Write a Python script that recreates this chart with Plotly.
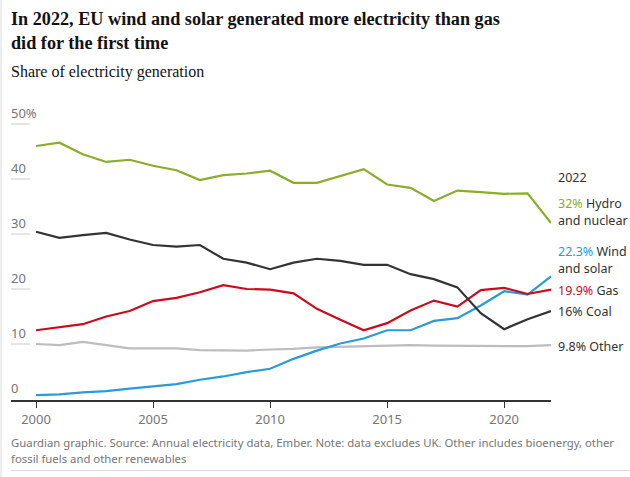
import plotly.graph_objects as go

years = list(range(2000, 2023))
hydro_nuclear = [46.0, 46.6, 44.5, 43.1, 43.5, 42.4, 41.6, 39.8, 40.7, 41.0, 41.5, 39.3,
                 39.3, 40.5, 41.8, 39.0, 38.4, 36.0, 37.9, 37.6, 37.3, 37.4, 32.0]
coal = [30.4, 29.3, 29.8, 30.2, 29.0, 28.0, 27.7, 28.0, 25.5, 24.8, 23.6, 24.8,
        25.5, 25.1, 24.4, 24.4, 22.7, 21.8, 20.3, 15.6, 12.7, 14.5, 16.0]
gas = [12.5, 13.0, 13.6, 15.0, 16.0, 17.8, 18.4, 19.4, 20.7, 20.0, 19.9, 19.2,
       16.4, 14.4, 12.5, 13.8, 16.1, 17.9, 16.8, 19.8, 20.2, 19.1, 19.9]
other = [10.0, 9.8, 10.4, 9.8, 9.2, 9.2, 9.2, 8.9, 8.8, 8.8, 9.0, 9.1,
         9.4, 9.5, 9.7, 9.8, 9.8, 9.7, 9.7, 9.6, 9.6, 9.6, 9.8]
wind_solar = [0.7, 0.85, 1.2, 1.45, 1.9, 2.3, 2.7, 3.5, 4.1, 4.9, 5.5, 7.3,
              8.8, 10.1, 11.0, 12.5, 12.5, 14.2, 14.7, 17.0, 19.6, 19.0, 22.3]

y_ticks = [0, 10, 20, 30, 40, 50]
y_tick_labels = ["0", "10", "20", "30", "40", "50%"]
x_ticks = [2000, 2005, 2010, 2015, 2020]

GREEN = "#8aad2b"
DARK = "#333333"
RED = "#cc0a1e"
GREY = "#bdbdbd"
BLUE = "#2a9ad8"
TXT = "#333333"
MUTED = "#767676"

series = [
    (other, GREY),
    (wind_solar, BLUE),
    (gas, RED),
    (coal, DARK),
    (hydro_nuclear, GREEN),
]

fig = go.Figure()
for vals, col in series:
    fig.add_trace(go.Scatter(x=years, y=vals, mode="lines",
                             line=dict(color=col, width=2.2),
                             hoverinfo="skip", showlegend=False))

# plot area in pixels
TOP, BOTTOM = 110, 400
H = BOTTOM - TOP


def py(p):
    return (BOTTOM - p) / H


ann = []
# titles
TITLE_FONT = dict(family="Liberation Serif", size=18.2, color="#121212")
ann.append(dict(text="<b>In 2022, EU wind and solar generated more electricity than gas</b>",
                x=0, xref="paper", xanchor="left", xshift=-2,
                y=py(19), yref="paper", yanchor="middle", showarrow=False,
                font=TITLE_FONT))
ann.append(dict(text="<b>did for the first time</b>",
                x=0, xref="paper", xanchor="left", xshift=-2,
                y=py(43), yref="paper", yanchor="middle", showarrow=False,
                font=TITLE_FONT))
ann.append(dict(text="Share of electricity generation",
                x=0, xref="paper", xanchor="left", xshift=-2,
                y=py(72), yref="paper", yanchor="middle", showarrow=False,
                font=dict(family="Liberation Serif", size=16, color="#121212")))
# footer
FOOT_FONT = dict(family="Noto Sans", size=11.35, color=MUTED)
ann.append(dict(text="Guardian graphic. Source: Annual electricity data, Ember. Note: data excludes UK. Other includes bioenergy, other",
                x=0, xref="paper", xanchor="left", xshift=-2,
                y=py(442), yref="paper", yanchor="middle", showarrow=False,
                font=FOOT_FONT))
ann.append(dict(text="fossil fuels and other renewables",
                x=0, xref="paper", xanchor="left", xshift=-2,
                y=py(458), yref="paper", yanchor="middle", showarrow=False,
                font=FOOT_FONT))

# y tick labels above short stubs
shapes = []
for v, lab in zip(y_ticks, y_tick_labels):
    ann.append(dict(text=lab, x=0, xref="paper", xanchor="left", xshift=-2,
                    y=v, yref="y", yanchor="bottom", yshift=0, showarrow=False,
                    font=dict(family="Noto Sans", size=13, color=MUTED)))
    if v > 0:
        shapes.append(dict(type="line", xref="paper", yref="y",
                           x0=0, x1=0.035, y0=v, y1=v,
                           line=dict(color="#cccccc", width=1)))

# right-hand labels
def rlab(text, ypix):
    ann.append(dict(text=text, x=1, xref="paper", xanchor="left", xshift=5,
                    y=py(ypix), yref="paper", yanchor="middle", showarrow=False,
                    font=dict(family="Noto Sans", size=12.5, color=TXT)))

rlab("2022", 177)
rlab(f"<span style='color:{GREEN}'>{hydro_nuclear[-1]:g}%</span> Hydro", 203)
rlab("and nuclear", 220)
rlab(f"<span style='color:{BLUE}'>{wind_solar[-1]:g}%</span> Wind", 251)
rlab("and solar", 268)
rlab(f"<span style='color:{RED}'>{gas[-1]:g}%</span> Gas", 290)
rlab(f"{coal[-1]:g}% Coal", 311)
rlab(f"{other[-1]:g}% Other", 346)

# decorative frame lines
shapes.append(dict(type="line", xref="paper", yref="paper",
                   x0=-0.0185, x1=-0.0185, y0=py(0), y1=py(477),
                   line=dict(color="#dcdcdc", width=1)))
shapes.append(dict(type="line", xref="paper", yref="paper",
                   x0=0, x1=1.15, y0=py(470.5), y1=py(470.5),
                   line=dict(color="#dcdcdc", width=1)))

x0_year = 2000 - 25 / 23.4

fig.update_layout(
    width=630, height=477,
    margin=dict(l=11, r=79, t=TOP, b=477 - BOTTOM),
    paper_bgcolor="white", plot_bgcolor="white",
    annotations=ann, shapes=shapes,
    xaxis=dict(range=[x0_year, 2022], tickvals=x_ticks, ticktext=[str(t) for t in x_ticks],
               showgrid=False, zeroline=False, showline=True, linecolor="#333333", linewidth=2,
               ticks="outside", ticklen=6, tickwidth=1, tickcolor="#333333",
               tickfont=dict(family="Noto Sans", size=13, color=MUTED), fixedrange=True),
    yaxis=dict(range=[(BOTTOM - 400) / 5.5 - 0.18, (399 - TOP) / 5.5], showticklabels=False,
               showgrid=False, zeroline=False, showline=False, fixedrange=True),
    font=dict(family="Noto Sans"),
)

fig.write_html("out.html", config={"displayModeBar": False})
